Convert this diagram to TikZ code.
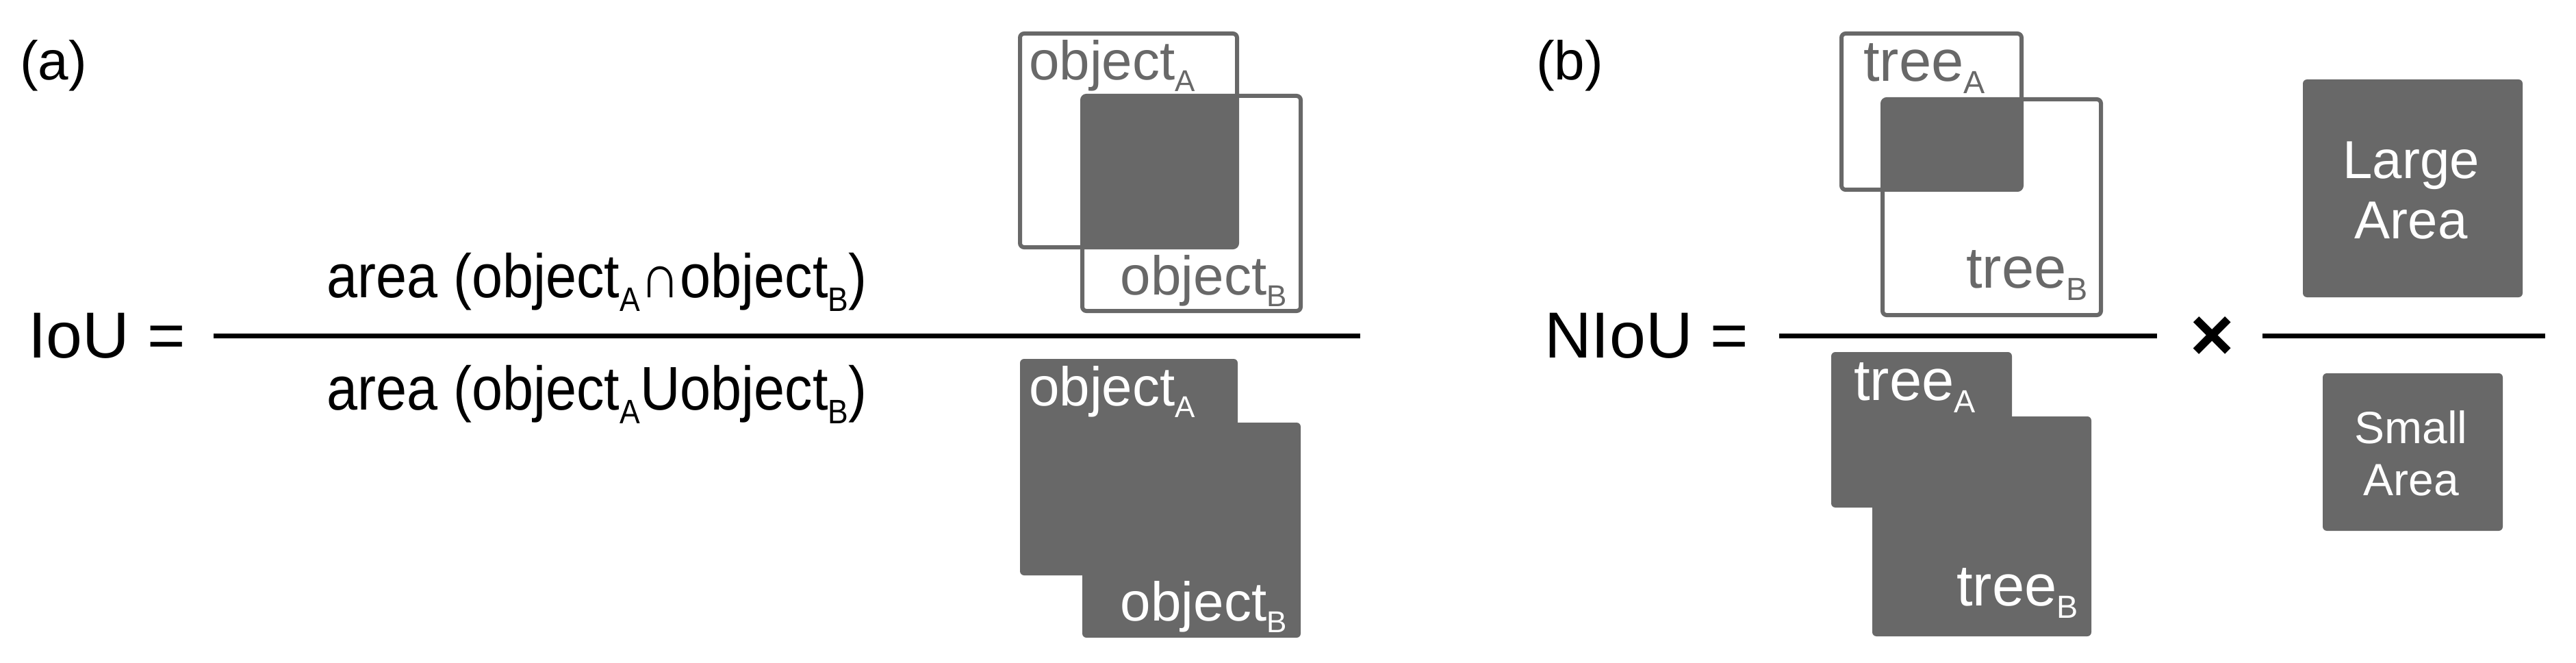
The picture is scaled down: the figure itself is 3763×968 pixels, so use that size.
\documentclass[tikz,border=0pt]{standalone}
\usepackage{fontspec}
\setmainfont{Liberation Sans}
\definecolor{gr}{RGB}{104,104,104}
\newcommand\sbs[1]{\raisebox{-0.22em}{\scalebox{0.55}{#1}}}
\begin{document}
\begin{tikzpicture}[x=1pt,y=-1pt,
  txt/.style={inner sep=0pt,font=\fontsize{#1}{#1}\selectfont},
  txt/.default=90,
  frame/.style={draw=gr,line width=6pt,rounded corners=6pt},
  solid/.style={fill=gr,rounded corners=6pt},
  bar/.style={line width=7pt,black}]
\useasboundingbox (0,0) rectangle (3763,968);
% (a)
\node[txt=80,anchor=west] (la) at (29,96) {(a)};
\node[txt=95,anchor=west] (iou) at (41,490) {IoU =};
\coordinate (f1l) at (312,490); \coordinate (f1r) at (1987,490);
\draw[bar] (f1l) -- (f1r);
\node[txt=90,xscale=0.9,transform shape] (num) at (872,412) {area (object\sbs{A}∩object\sbs{B})};
\node[txt=90,xscale=0.9,transform shape] (den) at (872,576) {area (object\sbs{A}Uobject\sbs{B})};
% top boxes (a)
\draw[frame] (1490,49) rectangle (1807,361);
\draw[frame] (1581,140) rectangle (1900,454);
\fill[solid] (1581,140) rectangle (1807,361);
\node[txt=80,text=gr,anchor=west] (oa1) at (1503,96) {object\sbs{A}};
\node[txt=80,text=gr,anchor=east] (ob1) at (1880,410) {object\sbs{B}};
% bottom boxes (a)
\fill[solid] (1490,524) rectangle (1808,840);
\fill[solid] (1581,617) rectangle (1900,931);
\node[txt=80,text=white,anchor=west] (oa2) at (1503,572) {object\sbs{A}};
\node[txt=80,text=white,anchor=east] (ob2) at (1880,886) {object\sbs{B}};
% (b)
\node[txt=80,anchor=west] (lb) at (2244,96) {(b)};
\node[txt=95,anchor=west] (niou) at (2256,490) {NIoU =};
\coordinate (f2l) at (2599,490); \coordinate (f2r) at (3151,490);
\draw[bar] (f2l) -- (f2r);
\node[txt=110,font=\fontsize{110}{110}\selectfont\bfseries] (x) at (3232,494) {×};
\coordinate (f3l) at (3305,490); \coordinate (f3r) at (3718,490);
\draw[bar] (f3l) -- (f3r);
\draw[frame] (2690,49) rectangle (2953,277);
\draw[frame] (2750,145) rectangle (3069,460);
\fill[solid] (2750,145) rectangle (2953,277);
\node[txt=85,text=gr,anchor=west] (ta1) at (2722,100) {tree\sbs{A}};
\node[txt=85,text=gr,anchor=east] (tb1) at (3050,402) {tree\sbs{B}};
\fill[solid] (2675,514) rectangle (2939,741);
\fill[solid] (2735,608) rectangle (3055,929);
\node[txt=85,text=white,anchor=west] (ta2) at (2708,566) {tree\sbs{A}};
\node[txt=85,text=white,anchor=east] (tb2) at (3036,866) {tree\sbs{B}};
\fill[solid] (3364,116) rectangle (3685,434);
\node[txt=78,text=white,align=center,font=\fontsize{78}{88}\selectfont] (large) at (3522,278) {Large\\Area};
\fill[solid] (3393,545) rectangle (3656,775);
\node[txt=66,text=white,align=center,font=\fontsize{66}{76}\selectfont] (small) at (3522,662) {Small\\Area};
\end{tikzpicture}
\end{document}
